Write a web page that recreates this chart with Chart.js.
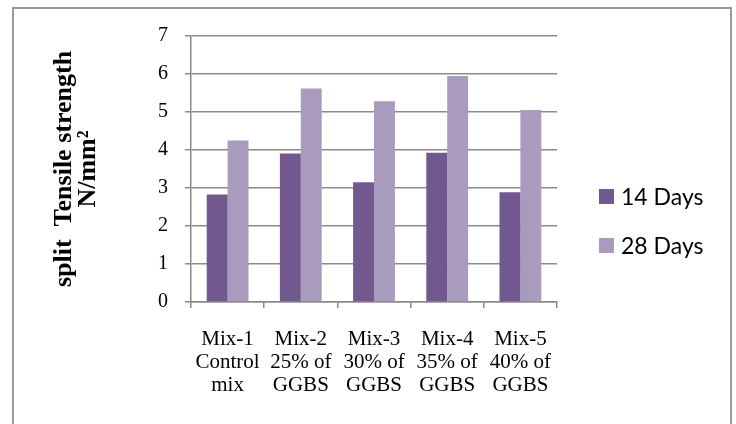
<!DOCTYPE html>
<html>
<head>
<meta charset="utf-8">
<script src="https://cdn.jsdelivr.net/npm/chart.js@4"></script>
<style>
    html, body { margin: 0; padding: 0; background: #fff; }
    #wrap { position: relative; width: 736px; height: 424px; overflow: hidden; }
    #frame {
        position: absolute; left: 12px; top: 7px; width: 716px; height: 430px;
        border: 2px solid #9a9a9a; border-bottom: none;
    }
    #chart { position: absolute; left: 0; top: 0; }
    .legend-item {
        position: absolute; left: 599px; font: 23px Lato, sans-serif; color: #000;
        display: flex; align-items: center; white-space: nowrap;
    }
    .legend-item span.box { display: inline-block; width: 15px; height: 15px; margin-right: 7px; }
</style>
</head>
<body>
<div id="wrap">
    <div id="frame"></div>
    <canvas id="chart" width="736" height="424"></canvas>
    <div id="legend"></div>
</div>
<script>
const categories = [
    ["Mix-1", "Control", "mix"],
    ["Mix-2", "25% of", "GGBS"],
    ["Mix-3", "30% of", "GGBS"],
    ["Mix-4", "35% of", "GGBS"],
    ["Mix-5", "40% of", "GGBS"],
];
const days14 = [2.83, 3.91, 3.15, 3.93, 2.89];
const days28 = [4.25, 5.62, 5.28, 5.95, 5.05];
const seriesNames = ["14 Days", "28 Days"];
const seriesColors = ["#71598f", "#a99bbd"];
const yTitle = ["split  Tensile strength", "N/mm²"];

const gridColor = "#8a8a8a";
const serif = "'Liberation Serif', 'Times New Roman', serif";

new Chart(document.getElementById("chart"), {
    type: "bar",
    data: {
        labels: categories,
        datasets: [
            { label: seriesNames[0], data: days14, backgroundColor: seriesColors[0] },
            { label: seriesNames[1], data: days28, backgroundColor: seriesColors[1] },
        ],
    },
    options: {
        responsive: false,
        animation: false,
        events: [],
        layout: { padding: { top: 36, right: 179, left: 0, bottom: 0 } },
        datasets: { bar: { categoryPercentage: 0.571, barPercentage: 1 } },
        plugins: {
            legend: { display: false },
            tooltip: { enabled: false },
        },
        scales: {
            x: {
                afterFit(scale) { scale.height = 122; },
                grid: {
                    drawOnChartArea: false,
                    drawTicks: true,
                    tickLength: 6,
                    color: gridColor,
                    lineWidth: 1.5,
                },
                border: { color: gridColor, width: 1.5 },
                ticks: {
                    color: "#000",
                    maxRotation: 0,
                    autoSkip: false,
                    padding: 20,
                    font: { family: serif, size: 21, lineHeight: 1.1 },
                },
            },
            y: {
                min: 0,
                max: 7,
                afterFit(scale) { scale.width = 191; },
                grid: { color: gridColor, lineWidth: 1.5, tickLength: 6 },
                border: { color: gridColor, width: 1.5 },
                ticks: {
                    stepSize: 1,
                    color: "#000",
                    padding: 17,
                    font: { family: serif, size: 20 },
                },
                title: {
                    display: true,
                    text: yTitle,
                    color: "#000",
                    padding: { top: 53, bottom: 0 },
                    font: { family: serif, size: 26, weight: "bold", lineHeight: 0.9 },
                },
            },
        },
    },
});

const legend = document.getElementById("legend");
const legendTops = [182, 231];
seriesNames.forEach((name, i) => {
    const item = document.createElement("div");
    item.className = "legend-item";
    item.style.top = legendTops[i] + "px";
    item.innerHTML = `<span class="box" style="background:${seriesColors[i]}"></span>${name}`;
    legend.appendChild(item);
});
</script>
</body>
</html>
